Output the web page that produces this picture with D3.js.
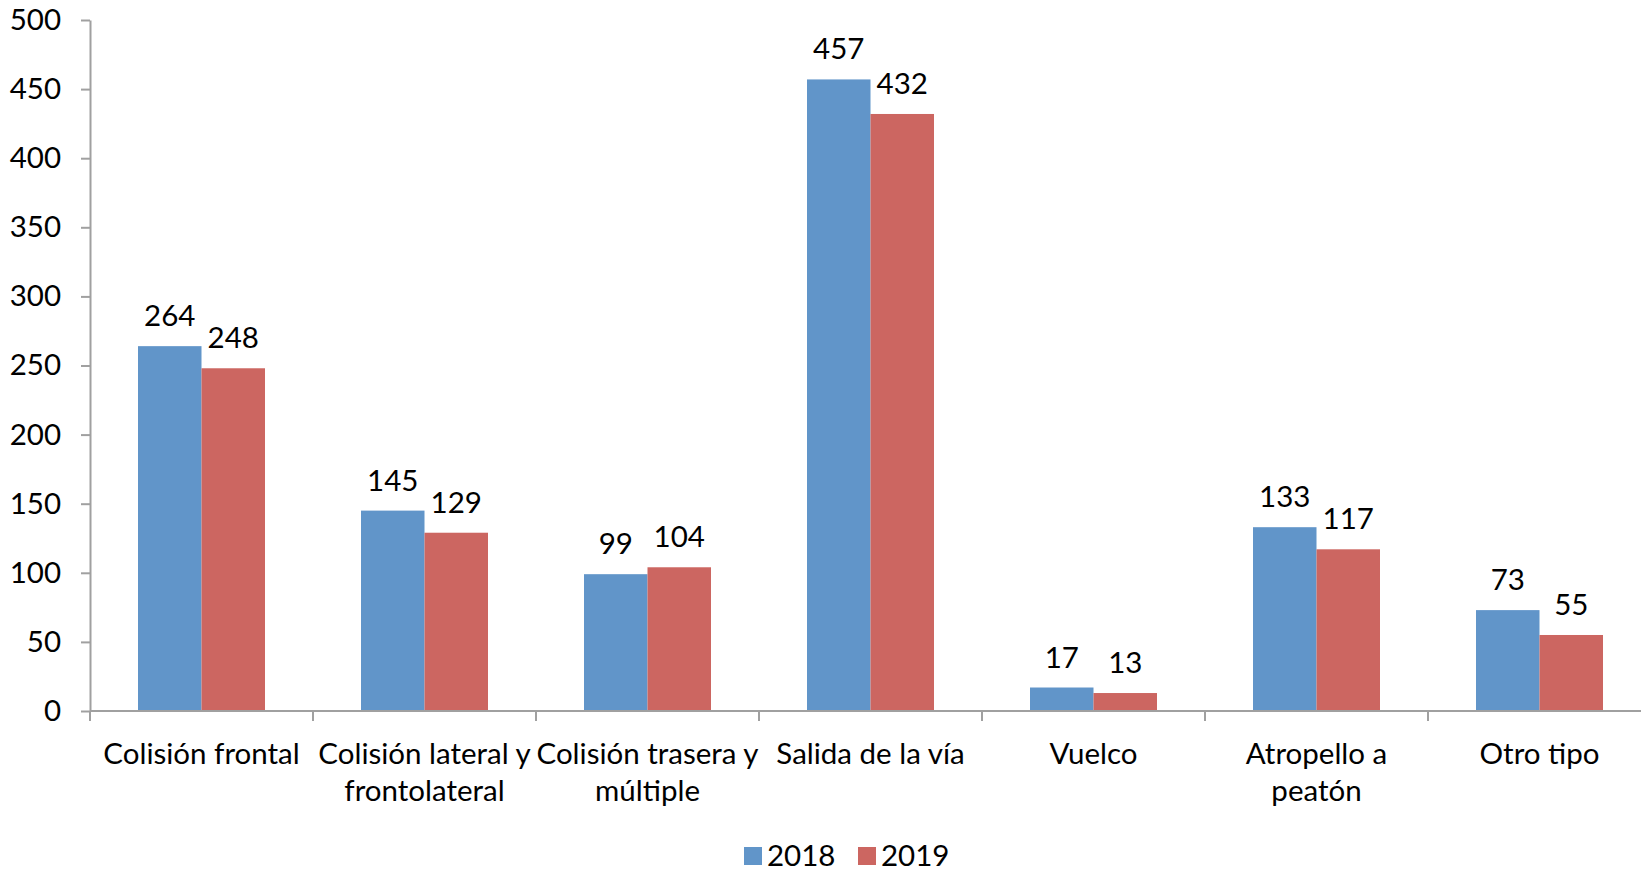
<!DOCTYPE html>
<html>
<head>
<meta charset="utf-8">
<script src="https://cdn.jsdelivr.net/npm/d3@7"></script>
<style>
  body { margin: 0; background: #fff; }
  svg { display: block; font-family: Lato, "Open Sans", sans-serif; }
</style>
</head>
<body>
<svg></svg>
<script>
const categories = ['Colisión frontal', 'Colisión lateral y frontolateral', 'Colisión trasera y múltiple',
    'Salida de la vía', 'Vuelco', 'Atropello a peatón', 'Otro tipo'];
const categoryLines = [
    ['Colisión frontal'],
    ['Colisión lateral y', 'frontolateral'],
    ['Colisión trasera y', 'múltiple'],
    ['Salida de la vía'],
    ['Vuelco'],
    ['Atropello a', 'peatón'],
    ['Otro tipo']
];
const seriesNames = ['2018', '2019'];
const values2018 = [264, 145, 99, 457, 17, 133, 73];
const values2019 = [248, 129, 104, 432, 13, 117, 55];
const yTicks = [0, 50, 100, 150, 200, 250, 300, 350, 400, 450, 500];

const width = 1641;
const height = 870;
const colors = ['#6195C9', '#CC6661'];
const axisColor = '#A0A0A0';
const fontSize = 29.5;

const svg = d3.select('svg')
    .attr('width', width).attr('height', height);

const plotLeft = 90, plotTop = 20, plotBottom = 711;
const bandWidth = 223;

const x = d3.scaleBand()
    .domain(categories)
    .range([plotLeft, plotLeft + bandWidth * categories.length])
    .paddingInner(0).paddingOuter(0);
const x1 = d3.scaleBand()
    .domain(seriesNames)
    .range([48, bandWidth - 48]);
const y = d3.scaleLinear().domain([0, 500]).range([plotBottom, plotTop]);

const series = seriesNames.map((name, i) => ({
    name,
    color: colors[i],
    values: i === 0 ? values2018 : values2019
}));

// bars
const groups = svg.append('g').selectAll('g')
    .data(series).enter().append('g')
    .attr('fill', d => d.color);
groups.selectAll('rect')
    .data(d => d.values.map((v, j) => ({ v, cat: categories[j], name: d.name })))
    .enter().append('rect')
    .attr('x', d => x(d.cat) + x1(d.name))
    .attr('y', d => y(d.v))
    .attr('width', x1.bandwidth())
    .attr('height', d => y(0) - y(d.v));

// data labels
groups.selectAll('text')
    .data(d => d.values.map((v, j) => ({ v, cat: categories[j], name: d.name })))
    .enter().append('text')
    .attr('x', d => x(d.cat) + x1(d.name) + x1.bandwidth() / 2)
    .attr('y', d => y(d.v) - 20)
    .attr('text-anchor', 'middle')
    .attr('fill', '#000')
    .style('font-size', fontSize + 'px')
    .text(d => d.v);

// y axis
const yAxis = svg.append('g')
    .attr('transform', `translate(${plotLeft},0)`)
    .call(d3.axisLeft(y).tickValues(yTicks).tickSize(9).tickPadding(20).tickSizeOuter(0));
yAxis.selectAll('line, path').attr('stroke', axisColor).attr('stroke-width', 2);
yAxis.selectAll('text').style('font-size', fontSize + 'px').attr('fill', '#000')
    .style('font-family', 'Lato, sans-serif');

// x axis
const xAxis = svg.append('g')
    .attr('transform', `translate(0,${plotBottom})`);
xAxis.append('line')
    .attr('x1', plotLeft).attr('x2', width)
    .attr('stroke', axisColor).attr('stroke-width', 2);
xAxis.selectAll('.tick')
    .data(categories).enter().append('line')
    .attr('class', 'tick')
    .attr('x1', d => x(d)).attr('x2', d => x(d))
    .attr('y1', 0).attr('y2', 10)
    .attr('stroke', axisColor).attr('stroke-width', 2);
const labels = xAxis.selectAll('.cat')
    .data(categories).enter().append('text')
    .attr('class', 'cat')
    .attr('text-anchor', 'middle')
    .attr('transform', d => `translate(${x(d) + bandWidth / 2},${53})`)
    .style('font-size', fontSize + 'px');
labels.selectAll('tspan')
    .data((d, i) => categoryLines[i])
    .enter().append('tspan')
    .attr('x', 0)
    .attr('dy', (d, i) => i === 0 ? 0 : 37)
    .text(d => d);

// legend
const legend = svg.append('g').attr('transform', 'translate(744,847)');
const items = legend.selectAll('g')
    .data(series).enter().append('g')
    .attr('transform', (d, i) => `translate(${i * 114},0)`);
items.append('rect')
    .attr('width', 18).attr('height', 18)
    .attr('fill', d => d.color);
items.append('text')
    .attr('x', 23).attr('y', 19)
    .style('font-size', fontSize + 'px')
    .text(d => d.name);
</script>
</body>
</html>
